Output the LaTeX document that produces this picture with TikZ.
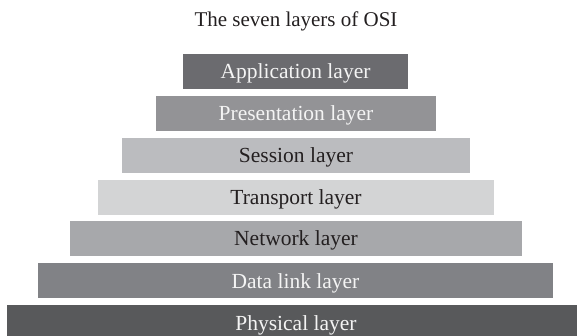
\documentclass[tikz,border=0pt]{standalone}
\usepackage{fontspec}
\setmainfont{Liberation Serif}
\definecolor{appfill}{HTML}{6B6B6F}
\definecolor{presfill}{HTML}{939396}
\definecolor{sessfill}{HTML}{BBBCBF}
\definecolor{tranfill}{HTML}{D3D4D5}
\definecolor{netfill}{HTML}{A7A8AB}
\definecolor{linkfill}{HTML}{818286}
\definecolor{physfill}{HTML}{58595B}
\definecolor{darktext}{HTML}{231F20}
\definecolor{lighttext}{HTML}{F4F4F4}
\tikzset{
  layerbox/.style={rectangle, inner sep=0pt, outer sep=0pt,
    text height=25pt, text depth=10pt,
    font=\fontsize{21.5}{25}\selectfont},
  darklayer/.style={layerbox, text=lighttext},
  lightlayer/.style={layerbox, text=darktext},
}
\begin{document}
\begin{tikzpicture}[x=1pt, y=-1pt]
  \useasboundingbox (0,0) rectangle (577,336);
  \clip (0,0) rectangle (577,336);

  % heading
  \node[anchor=base, inner sep=0pt, text=darktext,
        font=\fontsize{21}{25}\selectfont] (title) at (296,27)
        {The seven layers of OSI};

  % stack of layers, top (narrowest) to bottom (widest)
  \node[darklayer,  fill=appfill,  minimum width=225pt] (app)  at (295.5,71.5)  {Application layer};
  \node[darklayer,  fill=presfill, minimum width=280pt] (pres) at (296,113.5)   {Presentation layer};
  \node[lightlayer, fill=sessfill, minimum width=348pt] (sess) at (296,155.5)   {Session layer};
  \node[lightlayer, fill=tranfill, minimum width=396pt] (tran) at (296,197.5)   {Transport layer};
  \node[lightlayer, fill=netfill,  minimum width=452pt] (net)  at (296,238.5)   {Network layer};
  \node[darklayer,  fill=linkfill, minimum width=515pt] (link) at (295.5,280.5) {Data link layer};
  \node[darklayer,  fill=physfill, minimum width=578pt] (phys) at (296,322.5)   {Physical layer};
\end{tikzpicture}
\end{document}
